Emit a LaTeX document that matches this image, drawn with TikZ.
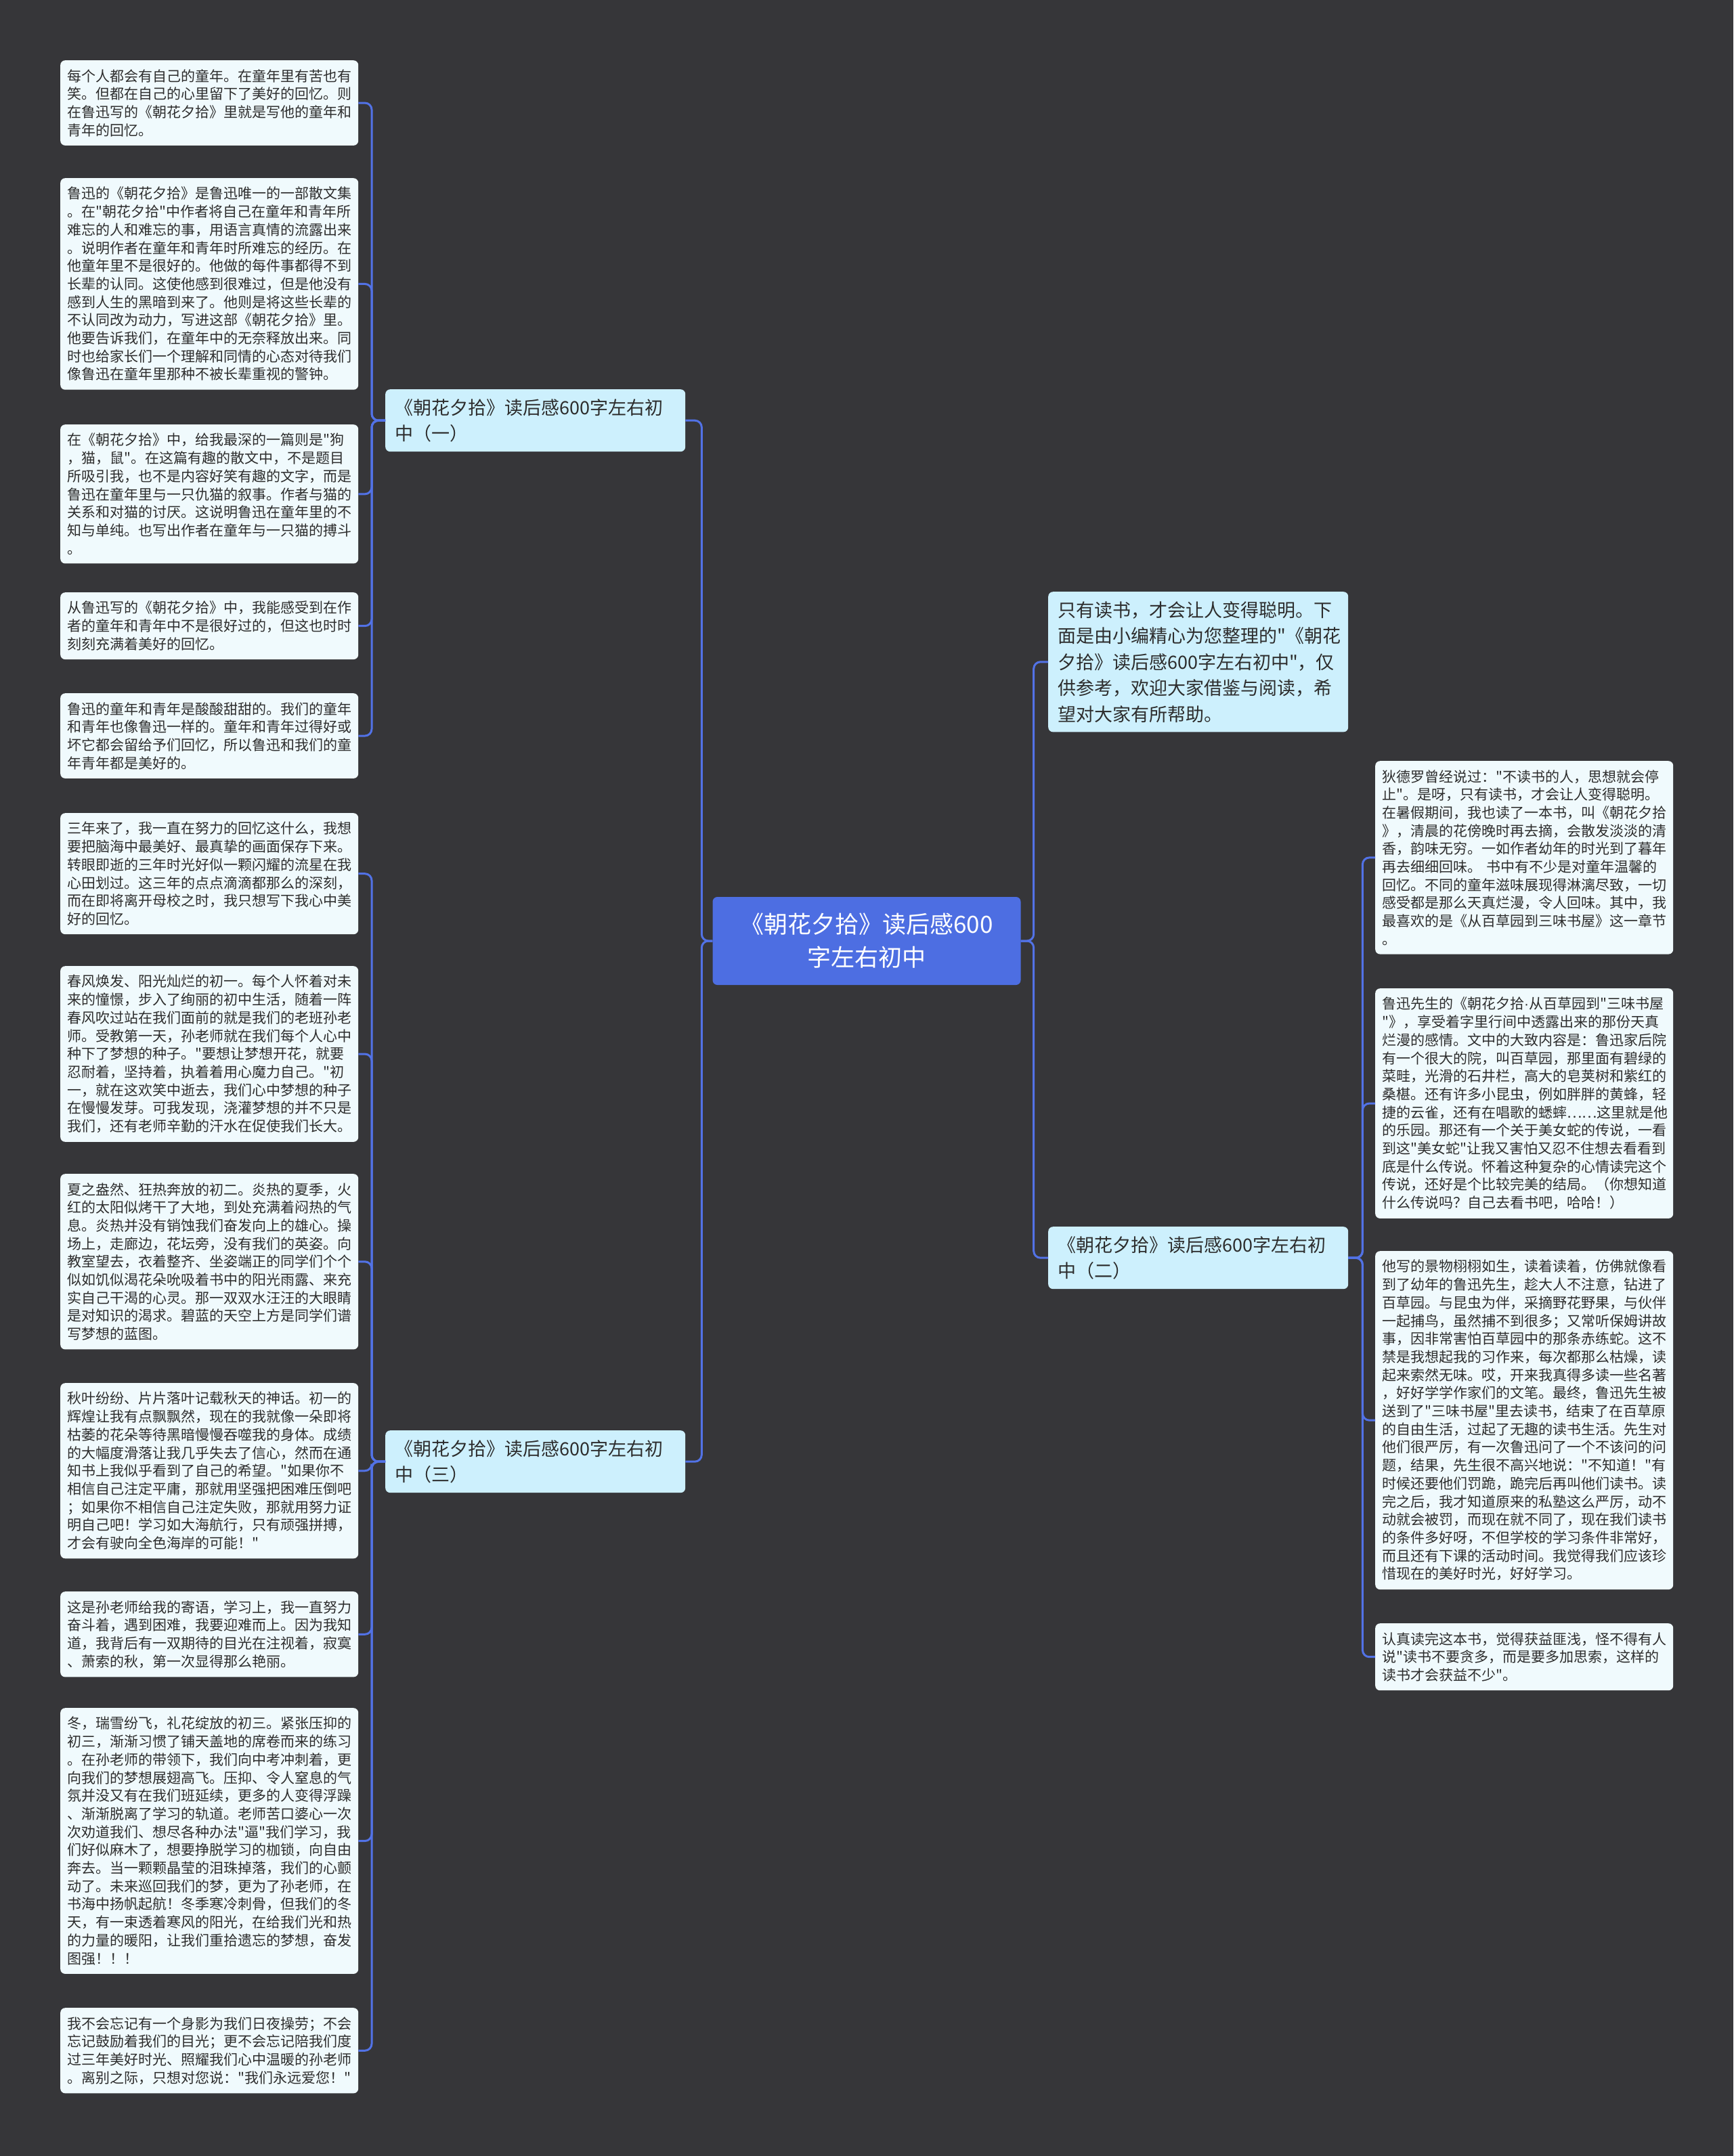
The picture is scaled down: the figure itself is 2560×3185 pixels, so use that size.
\documentclass[tikz,border=0pt]{standalone}
\usepackage{fontspec}
\setmainfont{Noto Sans CJK SC}[Ligatures=TeXOff]
\newfontfamily\latindot{Liberation Sans}
\usepackage{xcolor}
\usepackage{tikz}
\definecolor{bgdark}{RGB}{54,54,57}
\definecolor{mapblue}{RGB}{77,110,226}
\definecolor{linkblue}{RGB}{82,114,230}
\definecolor{topicfill}{RGB}{205,240,253}
\definecolor{leaffill}{RGB}{240,250,253}
\definecolor{inktext}{RGB}{45,45,45}

\begin{document}
\begin{tikzpicture}[x=1pt, y=-1pt,
  leafbox/.style={fill=leaffill, text=inktext, rounded corners=7pt, anchor=north west, align=left, text width=420pt, inner xsep=10pt, inner ysep=13pt, font=\fontsize{21}{26.7}\selectfont},
  topicbox/.style={fill=topicfill, text=inktext, rounded corners=7pt, anchor=north west, align=left, text width=415pt, inner xsep=14pt, inner ysep=14pt, font=\fontsize{27}{38.5}\selectfont},
  hubbox/.style={fill=mapblue, text=white, rounded corners=7pt, align=center, minimum width=455pt, minimum height=130pt, text width=430pt, font=\fontsize{35}{49}\selectfont},
  link/.style={draw=linkblue, line width=3pt, rounded corners=10pt}]
  \useasboundingbox (0,0) rectangle (2560,3185);
  \fill[bgdark] (0,0) rectangle (2560,3185);

  \node[hubbox] (hub) at (1280,1390) {《朝花夕拾》读后感600\\字左右初中};
  \node[topicbox] (b1) at (569,575) {《朝花夕拾》读后感600字左右初\\中（一）};
  \node[topicbox] (b3) at (569,2113) {《朝花夕拾》读后感600字左右初\\中（三）};
  \node[topicbox] (intro) at (1548,874) {只有读书，才会让人变得聪明。下\\面是由小编精心为您整理的"《朝花\\夕拾》读后感600字左右初中"，仅\\供参考，欢迎大家借鉴与阅读，希\\望对大家有所帮助。};
  \node[topicbox] (b2) at (1548,1812) {《朝花夕拾》读后感600字左右初\\中（二）};

  \node[leafbox] (l1) at (89,89) {每个人都会有自己的童年。在童年里有苦也有\\笑。但都在自己的心里留下了美好的回忆。则\\在鲁迅写的《朝花夕拾》里就是写他的童年和\\青年的回忆。};
  \node[leafbox] (l2) at (89,263) {鲁迅的《朝花夕拾》是鲁迅唯一的一部散文集\\。在"朝花夕拾"中作者将自己在童年和青年所\\难忘的人和难忘的事，用语言真情的流露出来\\。说明作者在童年和青年时所难忘的经历。在\\他童年里不是很好的。他做的每件事都得不到\\长辈的认同。这使他感到很难过，但是他没有\\感到人生的黑暗到来了。他则是将这些长辈的\\不认同改为动力，写进这部《朝花夕拾》里。\\他要告诉我们，在童年中的无奈释放出来。同\\时也给家长们一个理解和同情的心态对待我们\\像鲁迅在童年里那种不被长辈重视的警钟。};
  \node[leafbox] (l3) at (89,627) {在《朝花夕拾》中，给我最深的一篇则是"狗\\，猫，鼠"。在这篇有趣的散文中，不是题目\\所吸引我，也不是内容好笑有趣的文字，而是\\鲁迅在童年里与一只仇猫的叙事。作者与猫的\\关系和对猫的讨厌。这说明鲁迅在童年里的不\\知与单纯。也写出作者在童年与一只猫的搏斗\\。};
  \node[leafbox] (l4) at (89,875) {从鲁迅写的《朝花夕拾》中，我能感受到在作\\者的童年和青年中不是很好过的，但这也时时\\刻刻充满着美好的回忆。};
  \node[leafbox] (l5) at (89,1024) {鲁迅的童年和青年是酸酸甜甜的。我们的童年\\和青年也像鲁迅一样的。童年和青年过得好或\\坏它都会留给予们回忆，所以鲁迅和我们的童\\年青年都是美好的。};
  \node[leafbox] (l6) at (89,1201) {三年来了，我一直在努力的回忆这什么，我想\\要把脑海中最美好、最真挚的画面保存下来。\\转眼即逝的三年时光好似一颗闪耀的流星在我\\心田划过。这三年的点点滴滴都那么的深刻，\\而在即将离开母校之时，我只想写下我心中美\\好的回忆。};
  \node[leafbox] (l7) at (89,1427) {春风焕发、阳光灿烂的初一。每个人怀着对未\\来的憧憬，步入了绚丽的初中生活，随着一阵\\春风吹过站在我们面前的就是我们的老班孙老\\师。受教第一天，孙老师就在我们每个人心中\\种下了梦想的种子。"要想让梦想开花，就要\\忍耐着，坚持着，执着着用心魔力自己。"初\\一，就在这欢笑中逝去，我们心中梦想的种子\\在慢慢发芽。可我发现，浇灌梦想的并不只是\\我们，还有老师辛勤的汗水在促使我们长大。};
  \node[leafbox] (l8) at (89,1734) {夏之盎然、狂热奔放的初二。炎热的夏季，火\\红的太阳似烤干了大地，到处充满着闷热的气\\息。炎热并没有销蚀我们奋发向上的雄心。操\\场上，走廊边，花坛旁，没有我们的英姿。向\\教室望去，衣着整齐、坐姿端正的同学们个个\\似如饥似渴花朵吮吸着书中的阳光雨露、来充\\实自己干渴的心灵。那一双双水汪汪的大眼睛\\是对知识的渴求。碧蓝的天空上方是同学们谱\\写梦想的蓝图。};
  \node[leafbox] (l9) at (89,2043) {秋叶纷纷、片片落叶记载秋天的神话。初一的\\辉煌让我有点飘飘然，现在的我就像一朵即将\\枯萎的花朵等待黑暗慢慢吞噬我的身体。成绩\\的大幅度滑落让我几乎失去了信心，然而在通\\知书上我似乎看到了自己的希望。"如果你不\\相信自己注定平庸，那就用坚强把困难压倒吧\\；如果你不相信自己注定失败，那就用努力证\\明自己吧！学习如大海航行，只有顽强拼搏，\\才会有驶向全色海岸的可能！"};
  \node[leafbox] (l10) at (89,2351) {这是孙老师给我的寄语，学习上，我一直努力\\奋斗着，遇到困难，我要迎难而上。因为我知\\道，我背后有一双期待的目光在注视着，寂寞\\、萧索的秋，第一次显得那么艳丽。};
  \node[leafbox] (l11) at (89,2523) {冬，瑞雪纷飞，礼花绽放的初三。紧张压抑的\\初三，渐渐习惯了铺天盖地的席卷而来的练习\\。在孙老师的带领下，我们向中考冲刺着，更\\向我们的梦想展翅高飞。压抑、令人窒息的气\\氛并没又有在我们班延续，更多的人变得浮躁\\、渐渐脱离了学习的轨道。老师苦口婆心一次\\次劝道我们、想尽各种办法"逼"我们学习，我\\们好似麻木了，想要挣脱学习的枷锁，向自由\\奔去。当一颗颗晶莹的泪珠掉落，我们的心颤\\动了。未来巡回我们的梦，更为了孙老师，在\\书海中扬帆起航！冬季寒冷刺骨，但我们的冬\\天，有一束透着寒风的阳光，在给我们光和热\\的力量的暖阳，让我们重拾遗忘的梦想，奋发\\图强！！！};
  \node[leafbox] (l12) at (89,2966) {我不会忘记有一个身影为我们日夜操劳；不会\\忘记鼓励着我们的目光；更不会忘记陪我们度\\过三年美好时光、照耀我们心中温暖的孙老师\\。离别之际，只想对您说："我们永远爱您！"};

  \node[leafbox] (r1) at (2031,1124) {狄德罗曾经说过："不读书的人，思想就会停\\止"。是呀，只有读书，才会让人变得聪明。\\在暑假期间，我也读了一本书，叫《朝花夕拾\\》，清晨的花傍晚时再去摘，会散发淡淡的清\\香，韵味无穷。一如作者幼年的时光到了暮年\\再去细细回味。 书中有不少是对童年温馨的\\回忆。不同的童年滋味展现得淋漓尽致，一切\\感受都是那么天真烂漫，令人回味。其中，我\\最喜欢的是《从百草园到三味书屋》这一章节\\。};
  \node[leafbox] (r2) at (2031,1460) {鲁迅先生的《朝花夕拾{\latindot ·}从百草园到"三味书屋\\"》，享受着字里行间中透露出来的那份天真\\烂漫的感情。文中的大致内容是：鲁迅家后院\\有一个很大的院，叫百草园，那里面有碧绿的\\菜畦，光滑的石井栏，高大的皂荚树和紫红的\\桑椹。还有许多小昆虫，例如胖胖的黄蜂，轻\\捷的云雀，还有在唱歌的蟋蟀……这里就是他\\的乐园。那还有一个关于美女蛇的传说，一看\\到这"美女蛇"让我又害怕又忍不住想去看看到\\底是什么传说。怀着这种复杂的心情读完这个\\传说，还好是个比较完美的结局。（你想知道\\什么传说吗？自己去看书吧，哈哈！）};
  \node[leafbox] (r3) at (2031,1848) {他写的景物栩栩如生，读着读着，仿佛就像看\\到了幼年的鲁迅先生，趁大人不注意，钻进了\\百草园。与昆虫为伴，采摘野花野果，与伙伴\\一起捕鸟，虽然捕不到很多；又常听保姆讲故\\事，因非常害怕百草园中的那条赤练蛇。这不\\禁是我想起我的习作来，每次都那么枯燥，读\\起来索然无味。哎，开来我真得多读一些名著\\，好好学学作家们的文笔。最终，鲁迅先生被\\送到了"三味书屋"里去读书，结束了在百草原\\的自由生活，过起了无趣的读书生活。先生对\\他们很严厉，有一次鲁迅问了一个不该问的问\\题，结果，先生很不高兴地说："不知道！"有\\时候还要他们罚跪，跪完后再叫他们读书。读\\完之后，我才知道原来的私塾这么严厉，动不\\动就会被罚，而现在就不同了，现在我们读书\\的条件多好呀，不但学校的学习条件非常好，\\而且还有下课的活动时间。我觉得我们应该珍\\惜现在的美好时光，好好学习。};
  \node[leafbox] (r4) at (2031,2398) {认真读完这本书，觉得获益匪浅，怪不得有人\\说"读书不要贪多，而是要多加思索，这样的\\读书才会获益不少"。};

  \draw[link] (hub.west) -- ++(-16,0) |- (b1.east);
  \draw[link] (hub.west) -- ++(-16,0) |- (b3.east);
  \draw[link] (hub.east) -- ++(19,0) |- (intro.west);
  \draw[link] (hub.east) -- ++(19,0) |- (b2.west);
  \foreach \n in {1,...,5}
    \draw[link] (b1.west) -- ++(-20,0) |- (l\n.east);
  \foreach \n in {6,...,12}
    \draw[link] (b3.west) -- ++(-20,0) |- (l\n.east);
  \foreach \n in {1,...,4}
    \draw[link] (b2.east) -- ++(21,0) |- (r\n.west);
\end{tikzpicture}
\end{document}
